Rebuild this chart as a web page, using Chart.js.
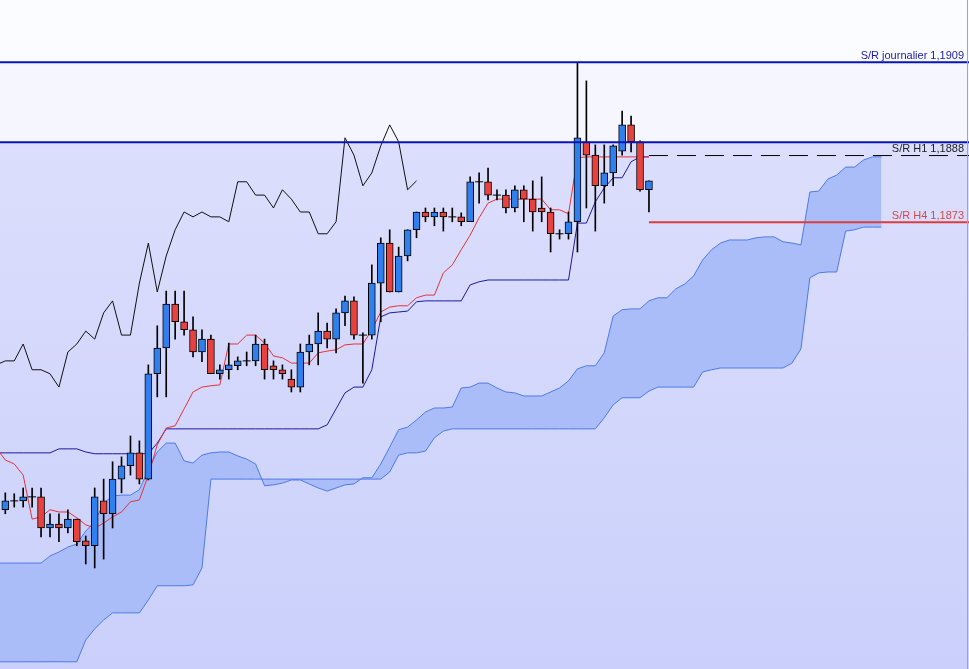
<!DOCTYPE html>
<html>
<head>
<meta charset="utf-8">
<title>Ichimoku H1</title>
<script src="https://cdn.jsdelivr.net/npm/chart.js@4.4.1/dist/chart.umd.min.js"></script>
<style>
  html, body { margin: 0; padding: 0; background: #fbfcff; overflow: hidden; }
  #wrap { width: 969px; height: 669px; }
</style>
</head>
<body>
<div id="wrap"><canvas id="ichimoku" width="969" height="669"></canvas></div>
<script>
// candles, one per hour (index 0 = first visible bar)
const openP = [1.18083,1.18103,1.18103,1.18112,1.18112,1.18042,1.18051,1.18042,1.18062,1.18013,
  1.18002,1.18103,1.18074,1.18152,1.18182,1.18211,1.18152,1.18389,1.18447,1.18546,
  1.18506,1.18488,1.18438,1.18467,1.18389,1.18398,1.18407,1.18418,1.18418,1.18456,
  1.18407,1.18398,1.18377,1.18359,1.18438,1.18456,1.18485,1.18467,1.18526,1.18553,
  1.18476,1.18476,1.18593,1.18683,1.18573,1.18654,1.18713,1.18753,1.18742,1.18753,
  1.18742,1.18742,1.18731,1.18821,1.18821,1.18791,1.18791,1.18762,1.18803,1.18782,
  1.18762,1.18753,1.18704,1.18704,1.18731,1.18911,1.18881,1.18812,1.18841,1.18890,
  1.18949,1.18911,1.18803];
const highP = [1.18121,1.18119,1.18132,1.18132,1.18132,1.18074,1.18074,1.18083,1.18062,1.18024,
  1.18132,1.18152,1.18191,1.18202,1.18249,1.18238,1.18409,1.18497,1.18575,1.18575,
  1.18575,1.18517,1.18488,1.18476,1.18409,1.18458,1.18427,1.18438,1.18476,1.18467,
  1.18418,1.18409,1.18398,1.18456,1.18476,1.18526,1.18503,1.18535,1.18564,1.18562,
  1.18481,1.18634,1.18695,1.18713,1.18674,1.18713,1.18753,1.18762,1.18762,1.18762,
  1.18762,1.18751,1.18832,1.18841,1.18852,1.18803,1.18803,1.18812,1.18812,1.18823,
  1.18832,1.18762,1.18713,1.18753,1.19088,1.19048,1.18904,1.18904,1.18904,1.18980,
  1.18969,1.18913,1.18823];
const lowP = [1.18074,1.18089,1.18089,1.18089,1.18022,1.18022,1.18011,1.18031,1.18002,1.17961,
  1.17952,1.17972,1.18042,1.18121,1.18161,1.18141,1.18150,1.18337,1.18337,1.18467,
  1.18476,1.18427,1.18416,1.18389,1.18377,1.18377,1.18398,1.18407,1.18407,1.18377,
  1.18377,1.18377,1.18348,1.18348,1.18409,1.18409,1.18447,1.18436,1.18497,1.18467,
  1.18368,1.18467,1.18506,1.18573,1.18573,1.18643,1.18695,1.18731,1.18722,1.18710,
  1.18731,1.18722,1.18731,1.18773,1.18780,1.18780,1.18751,1.18753,1.18731,1.18710,
  1.18731,1.18663,1.18692,1.18692,1.18663,1.18762,1.18710,1.18773,1.18812,1.18881,
  1.18888,1.18800,1.18753];
const closeP = [1.18103,1.18103,1.18112,1.18112,1.18042,1.18051,1.18042,1.18062,1.18011,1.18002,
  1.18112,1.18074,1.18152,1.18182,1.18211,1.18152,1.18389,1.18447,1.18546,1.18506,
  1.18488,1.18438,1.18467,1.18389,1.18398,1.18409,1.18418,1.18418,1.18456,1.18398,
  1.18398,1.18389,1.18359,1.18438,1.18456,1.18485,1.18467,1.18526,1.18553,1.18476,
  1.18476,1.18593,1.18683,1.18573,1.18654,1.18713,1.18753,1.18742,1.18753,1.18742,
  1.18742,1.18731,1.18821,1.18821,1.18791,1.18791,1.18762,1.18803,1.18782,1.18753,
  1.18753,1.18704,1.18704,1.18731,1.18920,1.18881,1.18812,1.18841,1.18902,1.18949,
  1.18911,1.18803,1.18823];

// tenkan-sen and kijun-sen, from bar -1 (just off the left edge) to the last candle
const lineStart = -1;
const tenkan = [1.18222,
  1.18195,1.18186,1.18161,1.18062,1.18067,1.18083,1.18078,1.18078,1.18065,1.18049,
  1.18042,1.18053,1.18067,1.18078,1.18101,1.18105,1.18161,1.18229,1.18267,1.18272,
  1.18310,1.18348,1.18359,1.18362,1.18364,1.18456,1.18456,1.18476,1.18476,1.18458,
  1.18429,1.18425,1.18413,1.18413,1.18413,1.18436,1.18440,1.18443,1.18454,1.18456,
  1.18456,1.18488,1.18528,1.18539,1.18542,1.18542,1.18560,1.18566,1.18566,1.18616,
  1.18634,1.18668,1.18701,1.18740,1.18773,1.18782,1.18782,1.18782,1.18782,1.18782,
  1.18782,1.18758,1.18758,1.18749,1.18875,1.18877,1.18877,1.18877,1.18877,1.18877,
  1.18877,1.18877,1.18877];
const kijun = [1.18211,
  1.18211,1.18211,1.18211,1.18211,1.18211,1.18211,1.18220,1.18220,1.18220,1.18213,
  1.18209,1.18209,1.18209,1.18209,1.18209,1.18209,1.18209,1.18233,1.18265,1.18265,
  1.18265,1.18265,1.18265,1.18265,1.18265,1.18265,1.18265,1.18265,1.18265,1.18265,
  1.18265,1.18265,1.18265,1.18265,1.18265,1.18265,1.18274,1.18310,1.18346,1.18359,
  1.18359,1.18398,1.18517,1.18526,1.18528,1.18530,1.18551,1.18553,1.18553,1.18553,
  1.18553,1.18553,1.18589,1.18596,1.18600,1.18600,1.18600,1.18600,1.18600,1.18600,
  1.18600,1.18600,1.18600,1.18600,1.18728,1.18728,1.18776,1.18807,1.18830,1.18830,
  1.18866,1.18877,1.18877];

// kumo, from bar -1 to bar 98 (26 bars ahead of the last candle)
const cloudStart = -1;
const senkouA = [1.17963,1.17963,1.17963,1.17963,1.17963,1.17963,1.17979,1.17988,1.17999,1.18006,
  1.18035,1.18056,1.18098,1.18114,1.18116,1.18116,1.18128,1.18173,1.18213,1.18233,
  1.18233,1.18193,1.18188,1.18206,1.18211,1.18213,1.18213,1.18204,1.18197,1.18186,
  1.18137,1.18139,1.18143,1.18150,1.18150,1.18141,1.18132,1.18125,1.18132,1.18139,
  1.18141,1.18155,1.18155,1.18186,1.18224,1.18263,1.18269,1.18285,1.18303,1.18312,
  1.18312,1.18314,1.18357,1.18359,1.18368,1.18368,1.18357,1.18348,1.18346,1.18339,
  1.18339,1.18339,1.18348,1.18357,1.18373,1.18400,1.18407,1.18407,1.18436,1.18519,
  1.18533,1.18535,1.18535,1.18553,1.18560,1.18560,1.18580,1.18591,1.18609,1.18645,
  1.18668,1.18683,1.18690,1.18690,1.18690,1.18695,1.18697,1.18697,1.18686,1.18683,
  1.18679,1.18798,1.18800,1.18827,1.18836,1.18854,1.18854,1.18870,1.18877,1.18877];
const senkouB = [1.17741,1.17741,1.17741,1.17741,1.17741,1.17741,1.17741,1.17741,1.17741,1.17741,
  1.17790,1.17815,1.17835,1.17851,1.17851,1.17851,1.17851,1.17880,1.17912,1.17912,
  1.17912,1.17912,1.17914,1.17952,1.18152,1.18152,1.18152,1.18152,1.18152,1.18152,
  1.18152,1.18152,1.18152,1.18152,1.18152,1.18152,1.18152,1.18152,1.18152,1.18152,
  1.18152,1.18152,1.18152,1.18152,1.18168,1.18206,1.18211,1.18211,1.18215,1.18245,
  1.18260,1.18265,1.18265,1.18265,1.18265,1.18265,1.18265,1.18265,1.18265,1.18265,
  1.18265,1.18265,1.18265,1.18265,1.18265,1.18265,1.18265,1.18265,1.18290,1.18319,
  1.18335,1.18335,1.18335,1.18350,1.18359,1.18359,1.18359,1.18359,1.18359,1.18393,
  1.18398,1.18402,1.18402,1.18402,1.18402,1.18402,1.18402,1.18402,1.18402,1.18413,
  1.18445,1.18605,1.18616,1.18618,1.18618,1.18710,1.18713,1.18719,1.18719,1.18719];

// chikou = closes drawn 26 bars back
const chikouShift = 26;

// support / resistance levels
const levels = [1.1909, 1.1891, 1.1888, 1.1873];
const levelLabels = ['S/R journalier 1,1909', '', 'S/R H1 1,1888', 'S/R H4 1,1873'];
const levelStart = [-1, -1, 72, 72];

const BLUE_UP = '#2f80ee';
const RED_DOWN = '#e8423e';

function pts(values, start) {
  return values.map((v, i) => ({ x: i + start, y: v }));
}

const bodies = openP.map((o, i) => ({ x: i, y: [o, closeP[i]] }));
const wicks = lowP.map((l, i) => ({ x: i, y: [l, highP[i]] }));
const bodyColors = openP.map((o, i) => closeP[i] >= o ? BLUE_UP : RED_DOWN);
const dojis = openP.map((o, i) => o === closeP[i] ? { x: i, y: o } : null).filter(Boolean);
const chikou = closeP.slice(chikouShift - 1).map((c, k) => ({ x: k - 1, y: c }));
const xRight = 110;

function levelLine(k, color, width, dash) {
  return {
    type: 'line',
    data: [{ x: levelStart[k], y: levels[k] }, { x: xRight, y: levels[k] }],
    borderColor: color,
    borderWidth: width,
    borderDash: dash || [],
    pointRadius: 0,
    order: 0
  };
}

const paper = {
  id: 'paper',
  beforeDraw(chart) {
    const { ctx, width, height } = chart;
    const y = chart.scales.y;
    const yDaily = y.getPixelForValue(levels[0]);
    const yZone = y.getPixelForValue(levels[1]);
    ctx.save();
    ctx.fillStyle = '#fbfcff';
    ctx.fillRect(0, 0, width, yDaily);
    ctx.fillStyle = '#f6f7fe';
    ctx.fillRect(0, yDaily, width, yZone - yDaily);
    let g = ctx.createLinearGradient(0, yZone, 0, height);
    g.addColorStop(0, '#dcdefc');
    g.addColorStop(1, '#cad0fb');
    ctx.fillStyle = g;
    ctx.fillRect(0, yZone, width, height - yZone);
    ctx.restore();
  },
  afterDraw(chart) {
    const { ctx, height } = chart;
    const y = chart.scales.y;
    const colors = ['#1c1ca8', '', '#1e1e1e', '#d24a4a'];
    ctx.save();
    ctx.font = '11px "Liberation Sans", Arial, sans-serif';
    ctx.textAlign = 'right';
    ctx.textBaseline = 'alphabetic';
    levelLabels.forEach((txt, k) => {
      if (!txt) return;
      ctx.fillStyle = colors[k];
      ctx.fillText(txt, 964, y.getPixelForValue(levels[k]) - 3.5);
    });
    ctx.strokeStyle = '#a0a4b4';
    ctx.lineWidth = 1;
    ctx.beginPath();
    ctx.moveTo(967.5, 0);
    ctx.lineTo(967.5, height);
    ctx.stroke();
    ctx.restore();
  }
};

new Chart(document.getElementById('ichimoku'), {
  type: 'bar',
  data: {
    datasets: [
      {
        type: 'line', label: 'Senkou A', data: pts(senkouA, cloudStart),
        borderColor: '#4d7be6', borderWidth: 1, pointRadius: 0,
        fill: '+1', backgroundColor: '#abbdf9', order: 10
      },
      {
        type: 'line', label: 'Senkou B', data: pts(senkouB, cloudStart),
        borderColor: '#4d7be6', borderWidth: 1, pointRadius: 0, fill: false, order: 9
      },
      {
        type: 'line', label: 'Chikou', data: chikou,
        borderColor: '#111111', borderWidth: 1, pointRadius: 0, fill: false, order: 8
      },
      {
        type: 'line', label: 'Kijun', data: pts(kijun, lineStart),
        borderColor: '#1b1b9e', borderWidth: 1, pointRadius: 0, fill: false, order: 7
      },
      {
        type: 'line', label: 'Tenkan', data: pts(tenkan, lineStart),
        borderColor: '#e8323c', borderWidth: 1, pointRadius: 0, fill: false, order: 6
      },
      {
        label: 'wick', data: wicks, backgroundColor: '#000000',
        barThickness: 1, grouped: false, order: 3
      },
      {
        label: 'body', data: bodies, backgroundColor: bodyColors,
        borderColor: '#000000', borderWidth: 1, borderSkipped: false,
        barThickness: 7, grouped: false, order: 2
      },
      {
        type: 'line', label: 'doji', data: dojis, showLine: false,
        pointStyle: 'line', pointRadius: 4, pointBorderColor: '#000000',
        pointBorderWidth: 1, order: 1
      },
      levelLine(0, '#0a14b4', 2),
      levelLine(1, '#0a14b4', 2),
      levelLine(2, '#000000', 1, [19, 9]),
      levelLine(3, '#dc3c3c', 2)
    ]
  },
  options: {
    responsive: false,
    animation: false,
    devicePixelRatio: 1,
    layout: { padding: 0, autoPadding: false },
    scales: {
      x: { type: 'linear', display: false, min: -0.593, max: 107.8, offset: false },
      y: { type: 'linear', display: false, min: 1.177247, max: 1.1923 }
    },
    elements: { line: { tension: 0 } },
    plugins: {
      legend: { display: false },
      tooltip: { enabled: false }
    }
  },
  plugins: [paper]
});
</script>
</body>
</html>
